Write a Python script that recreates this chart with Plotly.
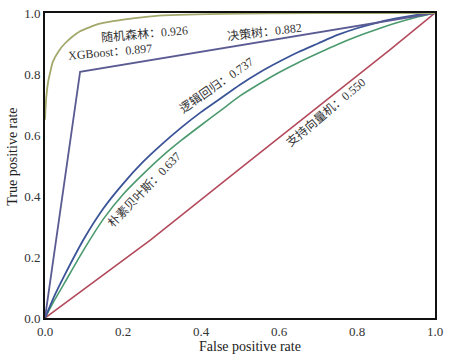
import plotly.graph_objects as go

# ROC curve data
rf_fpr = [0.0, 0.003, 0.008, 0.015, 0.02, 0.035, 0.051, 0.07, 0.09, 0.14, 0.21, 0.28, 0.45, 0.7, 1.0]
rf_tpr = [0.65, 0.72, 0.774, 0.815, 0.84, 0.875, 0.90, 0.922, 0.94, 0.965, 0.98, 0.99, 0.997, 1.0, 1.0]

dt_fpr = [0.0, 0.09, 1.0]
dt_tpr = [0.0, 0.807, 1.0]

lr_fpr = [0.0, 0.025, 0.05, 0.1, 0.15, 0.2, 0.25, 0.3, 0.35, 0.4, 0.45, 0.5, 0.55,
          0.6, 0.65, 0.7, 0.75, 0.8, 0.85, 0.9, 0.95, 1.0]
lr_tpr = [0.0, 0.075, 0.14, 0.26, 0.36, 0.44, 0.51, 0.57, 0.625, 0.675, 0.72, 0.765, 0.805,
          0.84, 0.872, 0.9, 0.928, 0.95, 0.968, 0.982, 0.993, 1.0]

nb_fpr = [0.0, 0.025, 0.05, 0.1, 0.15, 0.2, 0.25, 0.3, 0.35, 0.4, 0.45, 0.5, 0.55,
          0.6, 0.65, 0.7, 0.75, 0.8, 0.85, 0.9, 0.95, 1.0]
nb_tpr = [0.0, 0.06, 0.115, 0.225, 0.325, 0.405, 0.47, 0.53, 0.583, 0.632, 0.68, 0.728, 0.768,
          0.805, 0.838, 0.868, 0.897, 0.923, 0.946, 0.967, 0.985, 1.0]

svm_fpr = [0.0, 0.27, 0.5, 0.63, 0.885, 1.0]
svm_tpr = [0.0, 0.255, 0.49, 0.622, 0.88, 1.0]

label_texts = ["随机森林：0.926", "XGBoost：0.897", "决策树：0.882",
               "逻辑回归：0.737", "朴素贝叶斯：0.637", "支持向量机：0.550"]
label_x = [0.256, 0.167, 0.564, 0.441, 0.254, 0.718]
label_y = [0.934, 0.872, 0.938, 0.764, 0.42, 0.675]
label_angle = [-5, -5, -7, -35, -46, -40]

tick_vals = [0.0, 0.2, 0.4, 0.6, 0.8, 1.0]
tick_text = ["0.0", "0.2", "0.4", "0.6", "0.8", "1.0"]

x_title = "False positive rate"
y_title = "True positive rate"

fig = go.Figure()
fig.add_trace(go.Scatter(x=svm_fpr, y=svm_tpr, mode="lines",
                         line=dict(color="#b34a5c", width=1.6)))
fig.add_trace(go.Scatter(x=nb_fpr, y=nb_tpr, mode="lines",
                         line=dict(color="#4b9a6e", width=1.6, shape="spline", smoothing=0.6)))
fig.add_trace(go.Scatter(x=lr_fpr, y=lr_tpr, mode="lines",
                         line=dict(color="#3b5498", width=1.8, shape="spline", smoothing=0.6)))
fig.add_trace(go.Scatter(x=dt_fpr, y=dt_tpr, mode="lines",
                         line=dict(color="#5b5b94", width=1.8)))
fig.add_trace(go.Scatter(x=rf_fpr, y=rf_tpr, mode="lines",
                         line=dict(color="#a3a86c", width=1.8, shape="spline", smoothing=0.5)))

font_fam = "Liberation Serif, Noto Sans CJK SC, serif"
for t, x, y, a in zip(label_texts, label_x, label_y, label_angle):
    fig.add_annotation(x=x, y=y, text=t, showarrow=False, textangle=a,
                       font=dict(family=font_fam, size=12, color="#333333"))

# axis titles (placed as annotations to match the reference's offset)
fig.add_annotation(xref="paper", yref="paper", x=0.526, y=-0.092, text=x_title,
                   showarrow=False, xanchor="center", yanchor="middle",
                   font=dict(family=font_fam, size=14, color="#222222"))
fig.add_annotation(xref="paper", yref="paper", x=-0.082, y=0.529, text=y_title,
                   showarrow=False, textangle=-90, xanchor="center", yanchor="middle",
                   font=dict(family=font_fam, size=14, color="#222222"))

axis_common = dict(range=[0, 1], tickvals=tick_vals, ticktext=tick_text,
                   showgrid=False, zeroline=False, showline=True, mirror=True,
                   linecolor="#111111", linewidth=2, ticks="", automargin=False,
                   tickfont=dict(family=font_fam, size=13, color="#333333"))

fig.update_xaxes(**axis_common, ticklabelstandoff=0)
fig.update_yaxes(**axis_common)

fig.update_layout(width=450, height=354, showlegend=False,
                  margin=dict(l=45, r=15, t=13, b=36),
                  plot_bgcolor="white", paper_bgcolor="white")

fig.write_html("out.html")
